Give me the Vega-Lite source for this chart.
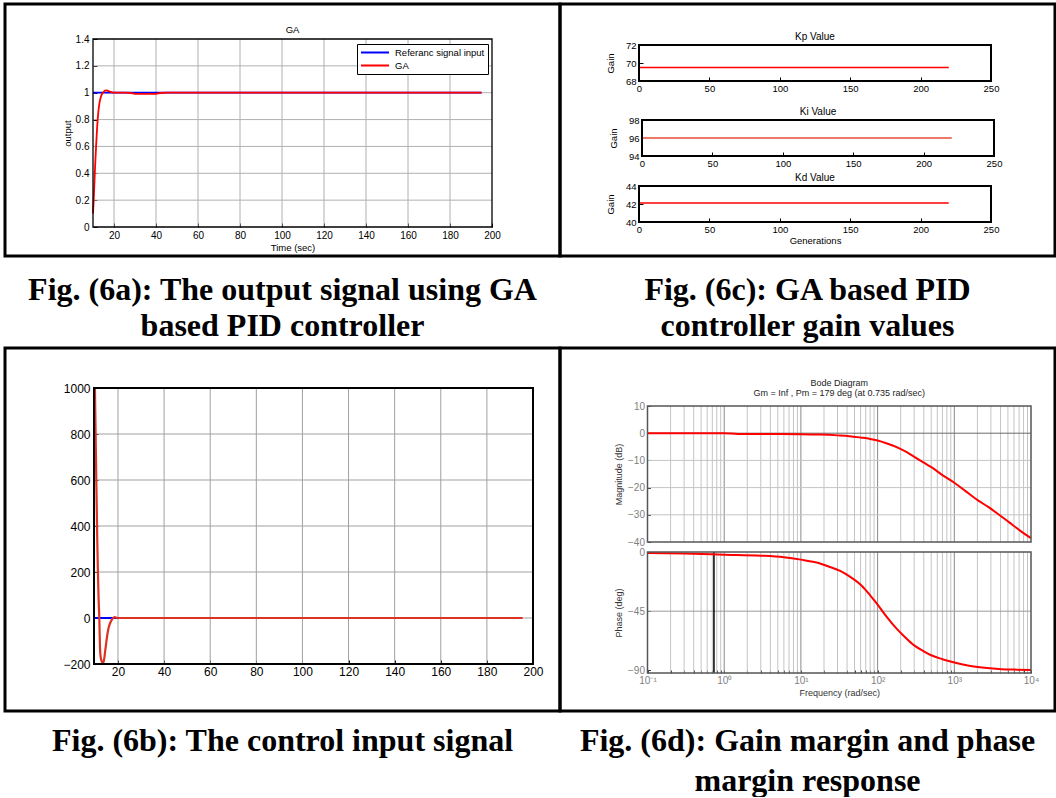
{
  "$schema": "https://vega.github.io/schema/vega-lite/v6.json",
  "padding": {"left": 3, "top": 2, "right": 0, "bottom": 0},
  "background": "white",
  "columns": 2,
  "spacing": 0,
  "bounds": "flush",
  "align": "each",
  "config": {
    "view": {"stroke": "black", "strokeWidth": 3},
    "font": "Liberation Sans",
    "axis": {"grid": false, "domain": false, "labelFont": "Liberation Sans", "titleFont": "Liberation Sans", "labelColor": "black", "titleColor": "black", "titleFontWeight": "normal", "tickColor": "black", "tickWidth": 1, "labelOverlap": false, "labelBound": false, "labelFlush": false},
    "legend": {"labelFont": "Liberation Sans"},
    "text": {"font": "Liberation Sans", "color": "black"}
  },
  "datasets": {
    "tgrid": [{"v": 20}, {"v": 40}, {"v": 60}, {"v": 80}, {"v": 100}, {"v": 120}, {"v": 140}, {"v": 160}, {"v": 180}],
    "ga_ygrid": [{"v": 0.2}, {"v": 0.4}, {"v": 0.6}, {"v": 0.8}, {"v": 1.0}, {"v": 1.2}],
    "u_ygrid": [{"v": 0}, {"v": 200}, {"v": 400}, {"v": 600}, {"v": 800}],
    "ga_ref": [{"t": 10, "y": 1, "s": "Referanc signal input"}, {"t": 195, "y": 1, "s": "Referanc signal input"}],
    "ga_out": [
      {"t": 10, "y": 0.1, "s": "GA"}, {"t": 10.5, "y": 0.26, "s": "GA"}, {"t": 11, "y": 0.45, "s": "GA"}, {"t": 11.5, "y": 0.61, "s": "GA"},
      {"t": 12, "y": 0.75, "s": "GA"}, {"t": 12.5, "y": 0.85, "s": "GA"}, {"t": 13, "y": 0.915, "s": "GA"}, {"t": 13.5, "y": 0.955, "s": "GA"},
      {"t": 14, "y": 0.98, "s": "GA"}, {"t": 15, "y": 1.005, "s": "GA"}, {"t": 16, "y": 1.017, "s": "GA"}, {"t": 17, "y": 1.015, "s": "GA"},
      {"t": 18, "y": 1.008, "s": "GA"}, {"t": 19, "y": 1.003, "s": "GA"}, {"t": 20, "y": 1.0, "s": "GA"}, {"t": 25, "y": 1.0, "s": "GA"},
      {"t": 28, "y": 0.998, "s": "GA"}, {"t": 30, "y": 0.992, "s": "GA"}, {"t": 35, "y": 0.991, "s": "GA"}, {"t": 40, "y": 0.992, "s": "GA"},
      {"t": 42, "y": 0.998, "s": "GA"}, {"t": 45, "y": 1.0, "s": "GA"}, {"t": 195, "y": 1.0, "s": "GA"}
    ],
    "u_ref": [{"t": 9.6, "u": 0}, {"t": 195, "u": 0}],
    "u_ga": [
      {"t": 10, "u": 1000}, {"t": 10.3, "u": 800}, {"t": 10.6, "u": 600}, {"t": 11.0, "u": 350}, {"t": 11.3, "u": 200},
      {"t": 11.6, "u": 80}, {"t": 11.9, "u": 0}, {"t": 12.2, "u": -130}, {"t": 12.5, "u": -170}, {"t": 13.0, "u": -190},
      {"t": 13.5, "u": -197}, {"t": 14.0, "u": -180}, {"t": 14.5, "u": -140}, {"t": 15.0, "u": -100}, {"t": 15.5, "u": -65},
      {"t": 16.0, "u": -40}, {"t": 16.5, "u": -25}, {"t": 17.5, "u": -5}, {"t": 18.5, "u": 4}, {"t": 19.5, "u": 1},
      {"t": 20.5, "u": 0}, {"t": 195.5, "u": 0}
    ],
    "kp": [{"g": 0, "v": 69.5}, {"g": 220, "v": 69.5}],
    "ki": [{"g": 0, "v": 96}, {"g": 220, "v": 96}],
    "kd": [{"g": 0, "v": 42.1}, {"g": 220, "v": 42.1}],
    "b_minor": [
      {"f": 0.2}, {"f": 0.3}, {"f": 0.4}, {"f": 0.5}, {"f": 0.6}, {"f": 0.7}, {"f": 0.8}, {"f": 0.9},
      {"f": 2}, {"f": 3}, {"f": 4}, {"f": 5}, {"f": 6}, {"f": 7}, {"f": 8}, {"f": 9},
      {"f": 20}, {"f": 30}, {"f": 40}, {"f": 50}, {"f": 60}, {"f": 70}, {"f": 80}, {"f": 90},
      {"f": 200}, {"f": 300}, {"f": 400}, {"f": 500}, {"f": 600}, {"f": 700}, {"f": 800}, {"f": 900},
      {"f": 2000}, {"f": 3000}, {"f": 4000}, {"f": 5000}, {"f": 6000}, {"f": 7000}, {"f": 8000}, {"f": 9000}
    ],
    "b_major": [{"f": 1}, {"f": 10}, {"f": 100}, {"f": 1000}],
    "mag_light": [{"v": -10}, {"v": -20}, {"v": -30}],
    "mag_dark": [{"v": 0}],
    "ph_grid": [{"v": -45}],
    "pm": [{"f": 0.735}],
    "mag": [
      {"f": 0.1, "db": 0}, {"f": 0.3, "db": 0}, {"f": 1, "db": -0.05}, {"f": 1.5, "db": -0.25}, {"f": 3, "db": -0.3},
      {"f": 10, "db": -0.35}, {"f": 18, "db": -0.5}, {"f": 30, "db": -0.8}, {"f": 43, "db": -1.1}, {"f": 60, "db": -1.6},
      {"f": 80, "db": -2.1}, {"f": 100, "db": -2.7}, {"f": 130, "db": -3.7}, {"f": 183, "db": -5.3}, {"f": 240, "db": -7},
      {"f": 301, "db": -8.7}, {"f": 400, "db": -10.8}, {"f": 497, "db": -12.4}, {"f": 700, "db": -15.4}, {"f": 1000, "db": -18.2},
      {"f": 1400, "db": -21.3}, {"f": 2014, "db": -24.6}, {"f": 2800, "db": -27.2}, {"f": 3680, "db": -29.6}, {"f": 5200, "db": -32.8},
      {"f": 7200, "db": -35.8}, {"f": 10000, "db": -38.6}
    ],
    "phase": [
      {"f": 0.1, "p": -0.8}, {"f": 0.3, "p": -1.2}, {"f": 1, "p": -2}, {"f": 3, "p": -2.8}, {"f": 6, "p": -4},
      {"f": 10, "p": -5.8}, {"f": 16, "p": -8}, {"f": 23, "p": -11}, {"f": 33, "p": -14.5}, {"f": 43, "p": -18.5},
      {"f": 63, "p": -26}, {"f": 80, "p": -33}, {"f": 100, "p": -40}, {"f": 130, "p": -49}, {"f": 178, "p": -58.5},
      {"f": 230, "p": -65}, {"f": 300, "p": -71}, {"f": 400, "p": -75.5}, {"f": 500, "p": -78.5}, {"f": 700, "p": -81.5},
      {"f": 1000, "p": -84}, {"f": 1500, "p": -86.3}, {"f": 2300, "p": -87.8}, {"f": 3800, "p": -88.9}, {"f": 6000, "p": -89.4},
      {"f": 10000, "p": -89.8}
    ]
  },
  "concat": [
    {
      "width": 555, "height": 252,
      "layer": [
        {"data": {"name": "tgrid"}, "mark": {"type": "rule", "color": "#b0b0b0", "strokeWidth": 1},
         "encoding": {"x": {"field": "v", "type": "quantitative"}, "y": {"datum": 0}, "y2": {"datum": 1.4}}},
        {"data": {"name": "ga_ygrid"}, "mark": {"type": "rule", "color": "#b0b0b0", "strokeWidth": 1},
         "encoding": {"y": {"field": "v", "type": "quantitative"}, "x": {"datum": 10}, "x2": {"datum": 200}}},
        {"data": {"name": "ga_ref"}, "mark": {"type": "line", "strokeWidth": 1.8},
         "encoding": {
           "x": {"field": "t", "type": "quantitative", "scale": {"domain": [10, 200], "range": [88, 487], "nice": false, "zero": false},
                 "axis": {"orient": "bottom", "offset": -29, "values": [20, 40, 60, 80, 100, 120, 140, 160, 180, 200], "tickCount": 30, "format": "d", "labelOverlap": false, "tickSize": -4, "labelPadding": 7, "labelFontSize": 10, "title": "Time (sec)", "titleFontSize": 9.5, "titlePadding": 2}},
           "y": {"field": "y", "type": "quantitative", "scale": {"domain": [0, 1.4], "range": [223, 35], "nice": false, "zero": false},
                 "axis": {"orient": "left", "offset": -88, "values": [0, 0.2, 0.4, 0.6, 0.8, 1, 1.2, 1.4], "tickCount": 30, "labelExpr": "datum.value < 0.01 ? '0' : abs(datum.value - 1) < 0.01 ? '1' : format(datum.value, '.1f')", "labelOverlap": false, "tickSize": -4, "labelPadding": 8, "labelFontSize": 10, "title": "output", "titleFontSize": 9.5, "titlePadding": 3}},
           "color": {"field": "s", "type": "nominal", "scale": {"domain": ["Referanc signal input", "GA"], "range": ["#0000ff", "#ff0000"]},
                     "legend": {"orient": "none", "legendX": 352, "legendY": 40, "title": null, "strokeColor": "black", "fillColor": "white", "padding": 3, "symbolType": "stroke", "symbolSize": 784, "symbolStrokeWidth": 2, "clipHeight": 11, "labelFontSize": 9.5, "labelOffset": 5, "rowPadding": 2, "labelColor": "black", "labelLimit": 300}}
         }},
        {"data": {"name": "ga_out"}, "mark": {"type": "line", "strokeWidth": 1.8, "interpolate": "monotone"},
         "encoding": {"x": {"field": "t", "type": "quantitative"}, "y": {"field": "y", "type": "quantitative"}, "color": {"field": "s", "type": "nominal", "legend": null}}},
        {"data": {"values": [{}]}, "mark": {"type": "rect", "fillOpacity": 0, "stroke": "black", "strokeWidth": 1.3},
         "encoding": {"x": {"datum": 10}, "x2": {"datum": 200}, "y": {"datum": 0}, "y2": {"datum": 1.4}}},
        {"data": {"values": [{"label": "GA"}]}, "mark": {"type": "text", "fontSize": 9.5, "baseline": "bottom", "dy": -4},
         "encoding": {"x": {"datum": 105}, "y": {"datum": 1.4}, "text": {"field": "label"}}}
      ]
    },
    {
      "width": 495, "height": 252,
      "resolve": {"scale": {"x": "independent", "y": "independent"}, "axis": {"x": "independent", "y": "independent"}},
      "layer": [
        {"layer": [
          {"data": {"name": "kp"}, "mark": {"type": "line", "color": "#ff0000", "strokeWidth": 1.5},
           "encoding": {
             "x": {"field": "g", "type": "quantitative", "scale": {"domain": [0, 250], "range": [79, 431], "nice": false, "zero": false},
                   "axis": {"orient": "bottom", "offset": -175, "values": [0, 50, 100, 150, 200, 250], "tickCount": 30, "format": "d", "labelOverlap": false, "tickSize": -4, "labelPadding": 6, "labelFontSize": 9.5, "title": null}},
             "y": {"field": "v", "type": "quantitative", "scale": {"domain": [68, 72], "range": [77, 41], "nice": false, "zero": false},
                   "axis": {"orient": "left", "offset": -79, "values": [68, 70, 72], "tickCount": 30, "format": "d", "labelOverlap": false, "tickSize": -4, "labelPadding": 7, "labelFontSize": 9.5, "title": "Gain", "titleFontSize": 9.5, "titlePadding": 10}}}},
          {"data": {"values": [{}]}, "mark": {"type": "rect", "fillOpacity": 0, "stroke": "black", "strokeWidth": 2},
           "encoding": {"x": {"datum": 0}, "x2": {"datum": 250}, "y": {"datum": 68}, "y2": {"datum": 72}}},
          {"data": {"values": [{"label": "Kp Value"}]}, "mark": {"type": "text", "fontSize": 10, "baseline": "bottom", "dy": -3},
           "encoding": {"x": {"datum": 125}, "y": {"datum": 72}, "text": {"field": "label"}}}
        ]},
        {"layer": [
          {"data": {"name": "ki"}, "mark": {"type": "line", "color": "#f07868", "strokeWidth": 2},
           "encoding": {
             "x": {"field": "g", "type": "quantitative", "scale": {"domain": [0, 250], "range": [82, 434], "nice": false, "zero": false},
                   "axis": {"orient": "bottom", "offset": -100, "values": [0, 50, 100, 150, 200, 250], "tickCount": 30, "format": "d", "labelOverlap": false, "tickSize": -4, "labelPadding": 6, "labelFontSize": 9.5, "title": null}},
             "y": {"field": "v", "type": "quantitative", "scale": {"domain": [94, 98], "range": [152, 116], "nice": false, "zero": false},
                   "axis": {"orient": "left", "offset": -82, "values": [94, 96, 98], "tickCount": 30, "format": "d", "labelOverlap": false, "tickSize": -4, "labelPadding": 7, "labelFontSize": 9.5, "title": "Gain", "titleFontSize": 9.5, "titlePadding": 10}}}},
          {"data": {"values": [{}]}, "mark": {"type": "rect", "fillOpacity": 0, "stroke": "black", "strokeWidth": 2},
           "encoding": {"x": {"datum": 0}, "x2": {"datum": 250}, "y": {"datum": 94}, "y2": {"datum": 98}}},
          {"data": {"values": [{"label": "Ki Value"}]}, "mark": {"type": "text", "fontSize": 10, "baseline": "bottom", "dy": -3},
           "encoding": {"x": {"datum": 125}, "y": {"datum": 98}, "text": {"field": "label"}}}
        ]},
        {"layer": [
          {"data": {"name": "kd"}, "mark": {"type": "line", "color": "#ff0000", "strokeWidth": 1.5},
           "encoding": {
             "x": {"field": "g", "type": "quantitative", "scale": {"domain": [0, 250], "range": [79, 431], "nice": false, "zero": false},
                   "axis": {"orient": "bottom", "offset": -34, "values": [0, 50, 100, 150, 200, 250], "tickCount": 30, "format": "d", "labelOverlap": false, "tickSize": -4, "labelPadding": 6, "labelFontSize": 9.5, "title": "Generations", "titleFontSize": 9.5, "titlePadding": 2}},
             "y": {"field": "v", "type": "quantitative", "scale": {"domain": [40, 44], "range": [218, 182], "nice": false, "zero": false},
                   "axis": {"orient": "left", "offset": -79, "values": [40, 42, 44], "tickCount": 30, "format": "d", "labelOverlap": false, "tickSize": -4, "labelPadding": 7, "labelFontSize": 9.5, "title": "Gain", "titleFontSize": 9.5, "titlePadding": 10}}}},
          {"data": {"values": [{}]}, "mark": {"type": "rect", "fillOpacity": 0, "stroke": "black", "strokeWidth": 2},
           "encoding": {"x": {"datum": 0}, "x2": {"datum": 250}, "y": {"datum": 40}, "y2": {"datum": 44}}},
          {"data": {"values": [{"label": "Kd Value"}]}, "mark": {"type": "text", "fontSize": 10, "baseline": "bottom", "dy": -3},
           "encoding": {"x": {"datum": 125}, "y": {"datum": 44}, "text": {"field": "label"}}}
        ]}
      ]
    },
    {
      "width": 555, "height": 92,
      "data": {"values": [{"c": "Fig. (6a): The output signal using GA\nbased PID controller"}]},
      "mark": {"type": "text", "font": "Liberation Serif", "fontWeight": "bold", "fontSize": 32, "lineBreak": "\n", "lineHeight": 36, "align": "center", "baseline": "alphabetic", "dy": -2},
      "encoding": {"text": {"field": "c"}}
    },
    {
      "width": 495, "height": 92,
      "data": {"values": [{"c": "Fig. (6c): GA based PID\ncontroller gain values"}]},
      "mark": {"type": "text", "font": "Liberation Serif", "fontWeight": "bold", "fontSize": 32, "lineBreak": "\n", "lineHeight": 36, "align": "center", "baseline": "alphabetic", "dy": -2},
      "encoding": {"text": {"field": "c"}}
    },
    {
      "width": 555, "height": 363,
      "layer": [
        {"data": {"name": "tgrid"}, "mark": {"type": "rule", "color": "#a0a0a0", "strokeWidth": 1},
         "encoding": {"x": {"field": "v", "type": "quantitative"}, "y": {"datum": -200}, "y2": {"datum": 1000}}},
        {"data": {"name": "u_ygrid"}, "mark": {"type": "rule", "color": "#a0a0a0", "strokeWidth": 1},
         "encoding": {"y": {"field": "v", "type": "quantitative"}, "x": {"datum": 9.6}, "x2": {"datum": 200}}},
        {"data": {"name": "u_ref"}, "mark": {"type": "line", "color": "#0000ff", "strokeWidth": 2},
         "encoding": {
           "x": {"field": "t", "type": "quantitative", "scale": {"domain": [9.6, 200], "range": [89, 528], "nice": false, "zero": false},
                 "axis": {"orient": "bottom", "offset": -47, "values": [20, 40, 60, 80, 100, 120, 140, 160, 180, 200], "tickCount": 30, "format": "d", "labelOverlap": false, "tickSize": -4, "labelPadding": 6, "labelFontSize": 12, "title": null}},
           "y": {"field": "u", "type": "quantitative", "scale": {"domain": [-200, 1000], "range": [316, 40], "nice": false, "zero": false},
                 "axis": {"orient": "left", "offset": -89, "values": [-200, 0, 200, 400, 600, 800, 1000], "tickCount": 30, "format": "d", "labelOverlap": false, "tickSize": -4, "labelPadding": 8, "labelFontSize": 12, "title": null}}
         }},
        {"data": {"name": "u_ga"}, "mark": {"type": "line", "color": "#dd3322", "strokeWidth": 2.2, "interpolate": "monotone"},
         "encoding": {"x": {"field": "t", "type": "quantitative"}, "y": {"field": "u", "type": "quantitative"}}},
        {"data": {"values": [{}]}, "mark": {"type": "rect", "fillOpacity": 0, "stroke": "black", "strokeWidth": 2},
         "encoding": {"x": {"datum": 9.6}, "x2": {"datum": 200}, "y": {"datum": -200}, "y2": {"datum": 1000}}}
      ]
    },
    {
      "width": 495, "height": 363,
      "resolve": {"scale": {"y": "independent"}, "axis": {"y": "independent"}},
      "layer": [
        {"layer": [
          {"data": {"name": "b_minor"}, "mark": {"type": "rule", "color": "#c4c4c4", "strokeWidth": 1},
           "encoding": {"x": {"field": "f", "type": "quantitative", "scale": {"type": "log", "domain": [0.1, 10000], "range": [87.5, 471], "nice": false}}, "y": {"datum": -40}, "y2": {"datum": 10}}},
          {"data": {"name": "b_major"}, "mark": {"type": "rule", "color": "#8a8a8a", "strokeWidth": 1},
           "encoding": {"x": {"field": "f", "type": "quantitative", "scale": {"type": "log", "domain": [0.1, 10000], "range": [87.5, 471], "nice": false}}, "y": {"datum": -40}, "y2": {"datum": 10}}},
          {"data": {"name": "mag_light"}, "mark": {"type": "rule", "color": "#c4c4c4", "strokeWidth": 1},
           "encoding": {"y": {"field": "v", "type": "quantitative"}, "x": {"datum": 0.1, "scale": {"type": "log", "domain": [0.1, 10000], "range": [87.5, 471], "nice": false}}, "x2": {"datum": 10000}}},
          {"data": {"name": "mag_dark"}, "mark": {"type": "rule", "color": "#6a6a6a", "strokeWidth": 1},
           "encoding": {"y": {"field": "v", "type": "quantitative"}, "x": {"datum": 0.1, "scale": {"type": "log", "domain": [0.1, 10000], "range": [87.5, 471], "nice": false}}, "x2": {"datum": 10000}}},
          {"data": {"name": "mag"}, "mark": {"type": "line", "color": "#ff0000", "strokeWidth": 2, "interpolate": "monotone"},
           "encoding": {
             "x": {"field": "f", "type": "quantitative", "scale": {"type": "log", "domain": [0.1, 10000], "range": [87.5, 471], "nice": false}},
             "y": {"field": "db", "type": "quantitative", "scale": {"domain": [-40, 10], "range": [194, 58], "nice": false, "zero": false},
                   "axis": {"orient": "left", "offset": -87.5, "values": [10, 0, -10, -20, -30, -40], "tickCount": 30, "format": "d", "labelOverlap": false, "tickSize": -3, "tickColor": "#404040", "labelPadding": 6, "labelFontSize": 10, "labelColor": "#808080", "title": "Magnitude (dB)", "titleFontSize": 9, "titleColor": "#333333", "titlePadding": 4}}}},
          {"data": {"values": [{}]}, "mark": {"type": "rect", "fillOpacity": 0, "stroke": "#555555", "strokeWidth": 1.5},
           "encoding": {"x": {"datum": 0.1, "scale": {"type": "log", "domain": [0.1, 10000], "range": [87.5, 471], "nice": false}}, "x2": {"datum": 10000}, "y": {"datum": -40}, "y2": {"datum": 10}}},
          {"data": {"values": [{"label": "Bode Diagram"}]}, "mark": {"type": "text", "fontSize": 9, "baseline": "bottom", "dy": -18, "color": "#222222"},
           "encoding": {"x": {"datum": 31.62, "scale": {"type": "log", "domain": [0.1, 10000], "range": [87.5, 471], "nice": false}}, "y": {"datum": 10}, "text": {"field": "label"}}},
          {"data": {"values": [{"label": "Gm = Inf ,  Pm = 179 deg (at 0.735 rad/sec)"}]}, "mark": {"type": "text", "fontSize": 9, "baseline": "bottom", "dy": -8, "color": "#222222"},
           "encoding": {"x": {"datum": 31.62, "scale": {"type": "log", "domain": [0.1, 10000], "range": [87.5, 471], "nice": false}}, "y": {"datum": 10}, "text": {"field": "label"}}}
        ]},
        {"layer": [
          {"data": {"name": "b_minor"}, "mark": {"type": "rule", "color": "#c4c4c4", "strokeWidth": 1},
           "encoding": {"x": {"field": "f", "type": "quantitative", "scale": {"type": "log", "domain": [0.1, 10000], "range": [87.5, 471], "nice": false}}, "y": {"datum": -92}, "y2": {"datum": 0}}},
          {"data": {"name": "b_major"}, "mark": {"type": "rule", "color": "#8a8a8a", "strokeWidth": 1},
           "encoding": {"x": {"field": "f", "type": "quantitative", "scale": {"type": "log", "domain": [0.1, 10000], "range": [87.5, 471], "nice": false}}, "y": {"datum": -92}, "y2": {"datum": 0}}},
          {"data": {"name": "ph_grid"}, "mark": {"type": "rule", "color": "#9a9a9a", "strokeWidth": 1},
           "encoding": {"y": {"field": "v", "type": "quantitative"}, "x": {"datum": 0.1, "scale": {"type": "log", "domain": [0.1, 10000], "range": [87.5, 471], "nice": false}}, "x2": {"datum": 10000}}},
          {"data": {"name": "pm"}, "mark": {"type": "rule", "color": "black", "strokeWidth": 1.5},
           "encoding": {"x": {"field": "f", "type": "quantitative", "scale": {"type": "log", "domain": [0.1, 10000], "range": [87.5, 471], "nice": false}}, "y": {"datum": -92}, "y2": {"datum": 0}}},
          {"data": {"name": "phase"}, "mark": {"type": "line", "color": "#ff0000", "strokeWidth": 2, "interpolate": "monotone"},
           "encoding": {
             "x": {"field": "f", "type": "quantitative", "scale": {"type": "log", "domain": [0.1, 10000], "range": [87.5, 471], "nice": false},
                   "axis": {"orient": "bottom", "offset": -38, "values": [0.1, 0.2, 0.3, 0.4, 0.5, 0.6, 0.7, 0.8, 0.9, 1, 2, 3, 4, 5, 6, 7, 8, 9, 10, 20, 30, 40, 50, 60, 70, 80, 90, 100, 200, 300, 400, 500, 600, 700, 800, 900, 1000, 2000, 3000, 4000, 5000, 6000, 7000, 8000, 9000, 10000],
                            "tickCount": 100,
                            "labelExpr": "datum.value == 0.1 ? '10⁻¹' : datum.value == 1 ? '10⁰' : datum.value == 10 ? '10¹' : datum.value == 100 ? '10²' : datum.value == 1000 ? '10³' : datum.value == 10000 ? '10⁴' : ''",
                            "labelOverlap": false, "tickSize": -3, "tickColor": "#404040", "labelPadding": 5, "labelFontSize": 10, "labelColor": "#808080", "title": "Frequency  (rad/sec)", "titleFontSize": 9, "titleColor": "#333333", "titlePadding": 3}},
             "y": {"field": "p", "type": "quantitative", "scale": {"domain": [-92, 0], "range": [325, 204], "nice": false, "zero": false},
                   "axis": {"orient": "left", "offset": -87.5, "values": [0, -45, -90], "tickCount": 30, "format": "d", "labelOverlap": false, "tickSize": -3, "tickColor": "#404040", "labelPadding": 6, "labelFontSize": 10, "labelColor": "#808080", "title": "Phase (deg)", "titleFontSize": 9, "titleColor": "#333333", "titlePadding": 4}}}},
          {"data": {"values": [{}]}, "mark": {"type": "rect", "fillOpacity": 0, "stroke": "#555555", "strokeWidth": 1.5},
           "encoding": {"x": {"datum": 0.1, "scale": {"type": "log", "domain": [0.1, 10000], "range": [87.5, 471], "nice": false}}, "x2": {"datum": 10000}, "y": {"datum": -92}, "y2": {"datum": 0}}}
        ]}
      ]
    },
    {
      "width": 555, "height": 86,
      "data": {"values": [{"c": "Fig. (6b): The control input signal"}]},
      "mark": {"type": "text", "font": "Liberation Serif", "fontWeight": "bold", "fontSize": 32, "lineBreak": "\n", "lineHeight": 40, "align": "center", "baseline": "alphabetic", "dy": -3},
      "encoding": {"text": {"field": "c"}}
    },
    {
      "width": 495, "height": 86,
      "data": {"values": [{"c": "Fig. (6d): Gain margin and phase\nmargin response"}]},
      "mark": {"type": "text", "font": "Liberation Serif", "fontWeight": "bold", "fontSize": 32, "lineBreak": "\n", "lineHeight": 40, "align": "center", "baseline": "alphabetic", "dy": -3},
      "encoding": {"text": {"field": "c"}}
    }
  ]
}
